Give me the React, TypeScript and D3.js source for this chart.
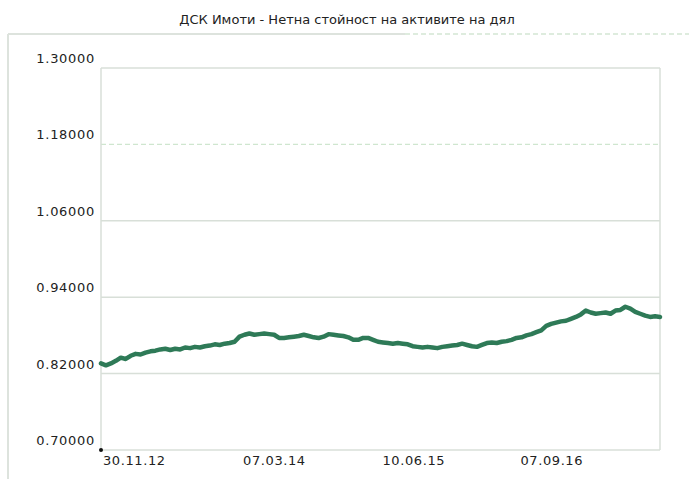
import * as d3 from "d3";

// NAV per unit, evenly spaced in trading days
const navValues = [
  0.836, 0.833, 0.836, 0.840, 0.845, 0.843, 0.848, 0.851, 0.850, 0.853,
  0.855, 0.856, 0.858, 0.859, 0.857, 0.859, 0.858, 0.861, 0.860, 0.862,
  0.861, 0.863, 0.864, 0.866, 0.865, 0.867, 0.868, 0.870, 0.878, 0.881,
  0.883, 0.881, 0.882, 0.883, 0.882, 0.881, 0.876, 0.876, 0.877, 0.878,
  0.879, 0.881, 0.879, 0.877, 0.876, 0.878, 0.882, 0.881, 0.880, 0.879,
  0.877, 0.873, 0.873, 0.876, 0.876, 0.873, 0.870, 0.869, 0.868, 0.867,
  0.868, 0.867, 0.866, 0.863, 0.862, 0.861, 0.862, 0.861, 0.860, 0.862,
  0.863, 0.864, 0.865, 0.867, 0.865, 0.863, 0.862, 0.865, 0.868, 0.869,
  0.868, 0.870, 0.871, 0.873, 0.876, 0.877, 0.880, 0.882, 0.885, 0.888,
  0.895, 0.898, 0.900, 0.902, 0.903, 0.906, 0.909, 0.913, 0.919, 0.916,
  0.914, 0.915, 0.916, 0.914, 0.919, 0.920, 0.925, 0.922, 0.917, 0.914,
  0.911, 0.909, 0.910, 0.909,
];

const startDate = new Date(2012, 10, 30);
const endDate = new Date(2017, 11, 18);

const xTickDates = [
  new Date(2012, 10, 30),
  new Date(2014, 2, 7),
  new Date(2015, 5, 10),
  new Date(2016, 8, 7),
];
const yTicks = [0.7, 0.82, 0.94, 1.06, 1.18, 1.3];

const title = "ДСК Имоти - Нетна стойност на активите на дял";

export default function App() {
  const W = 689,
    H = 479;
  const L = 101,
    R = 660,
    T = 68,
    B = 450;

  const y = d3.scaleLinear().domain([0.7, 1.3]).range([B, T]);
  const xi = d3.scaleLinear().domain([0, navValues.length - 1]).range([L, R]);
  const xt = d3.scaleTime().domain([startDate, endDate]).range([L, R]);
  const fmtDate = d3.timeFormat("%d.%m.%y");

  const line = d3
    .line<number>()
    .x((_, i) => xi(i))
    .y((d) => y(d));

  const font = "'DejaVu Sans', Verdana, sans-serif";

  return (
    <svg
      width={W}
      height={H}
      style={{ position: "absolute", left: 0, top: 0, background: "#fff" }}
      fontFamily={font}
    >
      <text x={347} y={24} textAnchor="middle" fontSize={13} fill="#222">
        {title}
      </text>

      {/* outer frame */}
      <line x1={8} x2={8} y1={34} y2={H} stroke="#dde3dd" strokeWidth={2} />
      <line x1={8} x2={405} y1={34} y2={34} stroke="#dde3dd" strokeWidth={2} />
      <line
        x1={405}
        x2={W}
        y1={34}
        y2={34}
        stroke="#d3e6d3"
        strokeWidth={1.5}
        strokeDasharray="5,3"
      />

      {/* grid */}
      {yTicks.map((t) => (
        <g key={t}>
          <line
            x1={L}
            x2={R}
            y1={y(t)}
            y2={y(t)}
            stroke={t === 1.18 ? "#cfe6cf" : "#d8dfd8"}
            strokeWidth={t === 1.18 ? 1.2 : 1.5}
            strokeDasharray={t === 1.18 ? "5,3" : undefined}
          />
          <text
            x={95}
            y={y(t) - 5}
            textAnchor="end"
            fontSize={13}
            letterSpacing={0.7}
            fill="#222"
          >
            {d3.format(".5f")(t)}
          </text>
        </g>
      ))}
      <line x1={L} x2={L} y1={T} y2={B} stroke="#d8dfd8" strokeWidth={1.5} />
      <line x1={R} x2={R} y1={T} y2={B} stroke="#d8dfd8" strokeWidth={1.5} />

      {xTickDates.map((d) => (
        <text
          key={+d}
          x={xt(d) + 2}
          y={465}
          fontSize={13}
          letterSpacing={0.6}
          fill="#222"
        >
          {fmtDate(d)}
        </text>
      ))}

      <path
        d={line(navValues) ?? ""}
        fill="none"
        stroke="#2e7a57"
        strokeWidth={4.5}
        strokeLinejoin="round"
        strokeLinecap="round"
      />
      <circle cx={L} cy={B} r={2} fill="#111" />
    </svg>
  );
}
